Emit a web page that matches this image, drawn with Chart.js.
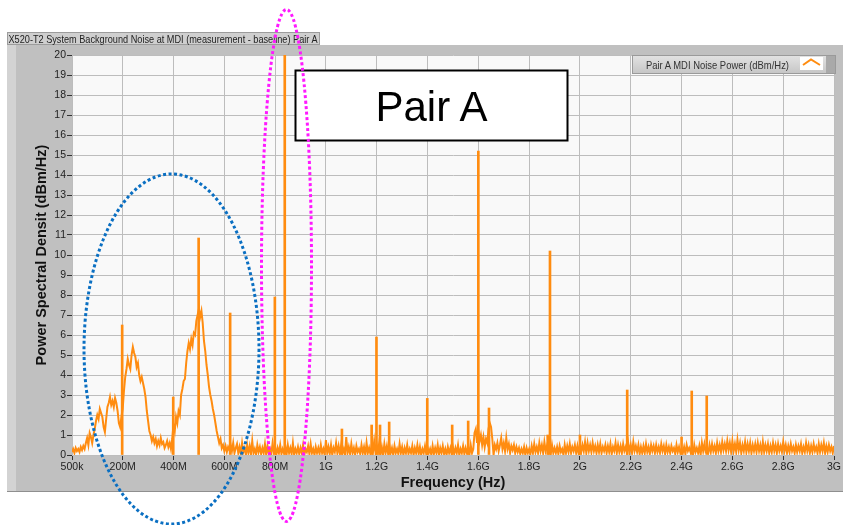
<!DOCTYPE html>
<html>
<head>
<meta charset="utf-8">
<script src="https://cdn.jsdelivr.net/npm/chart.js@4/dist/chart.umd.min.js"></script>
<style>
  html, body { margin: 0; padding: 0; background: #fff; }
  #wrap { position: relative; width: 844px; height: 525px; }
  #plot { position: absolute; left: 0; top: 0; }
  #overlay { position: absolute; left: 0; top: 0; pointer-events: none; }
</style>
</head>
<body>
<div id="wrap">
  <canvas id="plot" width="844" height="525"></canvas>
  <svg id="overlay" width="844" height="525" xmlns="http://www.w3.org/2000/svg">
    <defs>
      <linearGradient id="legendBg" x1="0" y1="0" x2="0" y2="1">
        <stop offset="0" stop-color="#e2e2e2"/>
        <stop offset="1" stop-color="#c6c6c6"/>
      </linearGradient>
    </defs>
    <!-- graph caption strip -->
    <rect x="7.5" y="32.5" width="312" height="12" fill="#cfcfcf" stroke="#9c9c9c"/>
    <text x="8.5" y="42.5" font-family="Liberation Sans, Arial, sans-serif" font-size="11" fill="#222"
          textLength="309" lengthAdjust="spacingAndGlyphs">X520-T2 System Background Noise at MDI (measurement - baseline) Pair A</text>
    <!-- plot legend -->
    <rect x="632.5" y="55.5" width="203" height="18" fill="url(#legendBg)" stroke="#9a9a9a"/>
    <rect x="826" y="56" width="9" height="17" fill="#a9a9a9"/>
    <text x="646" y="68.5" font-family="Liberation Sans, Arial, sans-serif" font-size="10.5" fill="#333"
          textLength="143" lengthAdjust="spacingAndGlyphs">Pair A MDI Noise Power (dBm/Hz)</text>
    <rect x="800" y="57" width="23" height="13" fill="#fff"/>
    <polyline points="803,65 811,59.5 820,65" fill="none" stroke="#ff8c10" stroke-width="2"/>
    <!-- annotations -->
    <rect x="295.5" y="70.5" width="272" height="70" fill="#fff" stroke="#000" stroke-width="2"/>
    <text x="431.5" y="120.5" text-anchor="middle" font-family="Liberation Sans, Arial, sans-serif" font-size="42" fill="#000">Pair A</text>
    <ellipse cx="171.5" cy="349" rx="87.5" ry="175" fill="none" stroke="#0a6fc2" stroke-width="3" stroke-dasharray="3 2.5"/>
    <ellipse cx="286.5" cy="265.5" rx="25" ry="256" fill="none" stroke="#ff19ff" stroke-width="3" stroke-dasharray="3 2.5"/>
  </svg>
</div>
<script>
// frequency axis ticks (MHz) and their labels
const tickFreqs = [0.5, 200, 400, 600, 800, 1000, 1200, 1400, 1600, 1800, 2000, 2200, 2400, 2600, 2800, 3000];
const tickLabels = ['500k', '200M', '400M', '600M', '800M', '1G', '1.2G', '1.4G', '1.6G', '1.8G', '2G', '2.2G', '2.4G', '2.6G', '2.8G', '3G'];

// PSD trace (dBm/Hz) sampled every 5 MHz, split in bands
const stepMHz = 5;
const bandStarts = [0, 650, 1500, 2250];
const psdBand1 = [
  0.15, 0.3, 0.1, 0.35, 0.2, 0.3, 0.15, 0.4, 0.25, 0.45,
  0.3, 0.6, 0.85, 0.5, 1.1, 0.9, 0.6, 1.0, 1.3, 1.7,
  2.0, 1.8, 2.3, 2.1, 1.9, 1.4, 1.15, 1.8, 2.4, 2.6,
  2.9, 2.5, 2.7, 2.4, 2.85, 2.6, 2.2, 1.6, 1.4, 1.9,
  2.3, 3.2, 3.9, 4.3, 4.8, 4.5, 4.3, 5.0, 5.4, 5.1,
  4.9, 4.4, 4.6, 4.0, 3.7, 3.9, 3.6, 3.3, 2.9, 2.2,
  1.7, 1.2, 1.0, 0.7, 0.9, 0.6, 0.8, 0.45, 0.7, 0.5,
  0.85, 0.55, 0.65, 0.35, 0.5, 0.7, 0.4, 0.6, 0.3, 0.8,
  1.5, 1.2, 1.9, 1.6, 2.2, 2.0, 3.0, 3.3, 3.7, 3.8,
  4.6, 5.2, 5.6, 5.3, 5.8, 5.5, 6.1, 6.0, 6.7, 7.0,
  7.3, 6.9, 7.2, 6.6, 5.7, 5.2, 4.5, 4.0, 3.4, 3.0,
  2.7, 2.3, 2.0, 1.6, 1.2, 0.9, 0.6, 0.8, 0.35, 0.5,
  0.2, 0.45, 0.15, 0.4, 0.25, 0.5, 0.2, 0.6, 0.1, 0.35
];
const psdBand2 = [
  0.55, 0.1, 0.4, 0.05, 0.6, 0.15, 0.35, 0.0, 0.5, 0.1,
  0.45, 0.05, 0.7, 0.1, 0.3, 0.0, 0.5, 0.15, 0.4, 0.05,
  0.35, 0.1, 0.55, 0.0, 0.45, 0.1, 0.3, 0.05, 0.6, 0.15,
  0.4, 0.0, 0.35, 0.1, 0.5, 0.05, 0.3, 0.1, 0.45, 0.0,
  0.5, 0.1, 0.35, 0.05, 0.6, 0.0, 0.3, 0.1, 0.4, 0.05,
  0.35, 0.1, 0.5, 0.0, 0.3, 0.15, 0.45, 0.05, 0.55, 0.1,
  0.3, 0.0, 0.4, 0.1, 0.35, 0.05, 0.5, 0.1, 0.3, 0.0,
  0.75, 0.1, 0.4, 0.05, 0.5, 0.0, 0.35, 0.15, 0.6, 0.1,
  0.45, 0.05, 0.5, 0.1, 0.3, 0.0, 0.9, 0.1, 0.4, 0.05,
  0.55, 0.1, 0.35, 0.0, 0.45, 0.15, 0.3, 0.05, 0.5, 0.1,
  0.4, 0.0, 0.6, 0.1, 0.35, 0.05, 0.45, 0.1, 0.7, 0.15,
  0.5, 0.1, 0.65, 0.05, 0.4, 0.0, 0.55, 0.1, 0.45, 0.05,
  0.5, 0.1, 0.35, 0.0, 0.45, 0.1, 0.3, 0.05, 0.55, 0.1,
  0.4, 0.0, 0.35, 0.1, 0.5, 0.05, 0.3, 0.1, 0.45, 0.0,
  0.35, 0.1, 0.5, 0.05, 0.4, 0.0, 0.3, 0.1, 0.45, 0.05,
  0.4, 0.1, 0.3, 0.0, 0.45, 0.05, 0.35, 0.1, 0.5, 0.0,
  0.35, 0.1, 0.45, 0.05, 0.3, 0.0, 0.4, 0.1, 0.35, 0.05
];
const psdBand3 = [
  0.4, 0.05, 0.35, 0.1, 0.5, 0.0, 0.3, 0.1, 0.45, 0.05,
  0.35, 0.1, 0.4, 0.0, 0.5, 0.1, 0.3, 1.1, 1.3, 0.6,
  1.2, 0.7, 1.0, 0.5, 0.9, 0.4, 0.8, 0.6, 1.3, 1.6,
  1.4, 0.8, 0.0, 0.5, 0.3, 0.6, 0.2, 0.5, 0.85, 0.3,
  0.6, 0.2, 0.85, 0.3, 0.55, 0.1, 0.45, 0.25, 0.5, 0.1,
  0.4, 0.15, 0.35, 0.05, 0.3, 0.1, 0.4, 0.0, 0.35, 0.1,
  0.3, 0.05, 0.45, 0.1, 0.55, 0.15, 0.4, 0.1, 0.6, 0.2,
  0.5, 0.1, 0.65, 0.2, 0.45, 0.15, 0.4, 0.05, 0.5, 0.1,
  0.35, 0.1, 0.4, 0.05, 0.45, 0.15, 0.3, 0.0, 0.5, 0.1,
  0.45, 0.15, 0.55, 0.1, 0.4, 0.2, 0.5, 0.1, 0.45, 0.05,
  0.55, 0.15, 0.5, 0.2, 0.65, 0.1, 0.6, 0.2, 0.5, 0.15,
  0.6, 0.2, 0.45, 0.1, 0.5, 0.15, 0.55, 0.1, 0.4, 0.2,
  0.5, 0.1, 0.45, 0.15, 0.55, 0.05, 0.4, 0.2, 0.6, 0.1,
  0.5, 0.15, 0.45, 0.1, 0.55, 0.2, 0.4, 0.1, 0.6, 0.15,
  0.5, 0.1, 0.65, 0.2, 0.45, 0.15, 0.5, 0.05, 0.4, 0.1
];
const psdBand4 = [
  0.45, 0.1, 0.55, 0.15, 0.4, 0.05, 0.5, 0.2, 0.45, 0.1,
  0.5, 0.15, 0.4, 0.1, 0.55, 0.2, 0.45, 0.05, 0.5, 0.15,
  0.4, 0.1, 0.45, 0.2, 0.35, 0.05, 0.5, 0.15, 0.4, 0.1,
  0.3, 0.1, 0.4, 0.05, 0.5, 0.2, 0.35, 0.15, 0.45, 0.0,
  0.5, 0.15, 0.35, 0.1, 0.45, 0.0, 0.6, 0.2, 0.55, 0.15,
  0.2, 0.1, 0.5, 0.15, 0.55, 0.2, 0.45, 0.1, 0.6, 0.2,
  0.5, 0.15, 0.65, 0.25, 0.55, 0.2, 0.7, 0.25, 0.6, 0.15,
  0.7, 0.2, 0.55, 0.15, 0.75, 0.25, 0.6, 0.1, 0.5, 0.2,
  0.65, 0.15, 0.55, 0.2, 0.6, 0.1, 0.5, 0.2, 0.55, 0.15,
  0.6, 0.2, 0.5, 0.1, 0.65, 0.15, 0.5, 0.2, 0.55, 0.1,
  0.45, 0.15, 0.6, 0.2, 0.5, 0.1, 0.55, 0.2, 0.45, 0.15,
  0.65, 0.2, 0.5, 0.1, 0.45, 0.15, 0.55, 0.2, 0.4, 0.1,
  0.5, 0.15, 0.45, 0.2, 0.55, 0.1, 0.4, 0.15, 0.6, 0.2,
  0.5, 0.1, 0.45, 0.15, 0.55, 0.2, 0.4, 0.1, 0.55, 0.15,
  0.5, 0.2, 0.6, 0.1, 0.45, 0.15, 0.5, 0.2, 0.4, 0.1,
  0.45
];

// narrow tones (MHz) and their peak level
const spikeFreqs = [198, 399, 499, 623, 799, 838, 1063, 1180, 1199, 1213, 1249, 1399, 1497, 1560, 1600, 1642, 1873, 1882, 2000, 2186, 2400, 2440, 2499];
const spikeLevels = [6.5, 2.9, 10.85, 7.1, 7.9, 20, 1.3, 1.5, 5.9, 1.5, 1.65, 2.83, 1.5, 1.7, 15.2, 2.35, 1.0, 10.2, 1.0, 3.25, 0.9, 3.2, 2.95];

const ORANGE = '#ff8c10';
const tickFont = { family: '"Liberation Sans", Arial, sans-serif', size: 10.5 };
const titleFont = { family: '"Liberation Sans", Arial, sans-serif', size: 14.5, weight: 'bold' };

const trace = [];
[psdBand1, psdBand2, psdBand3, psdBand4].forEach((band, b) => {
  band.forEach((v, i) => trace.push({ x: bandStarts[b] + i * stepMHz, y: v }));
});
const spikes = spikeFreqs.map((f, i) => ({ x: f, y: spikeLevels[i] }));

// grey LabVIEW-ish panel behind the plot
const panelBg = {
  id: 'panelBg',
  beforeDraw(chart) {
    const { ctx, chartArea: a } = chart;
    ctx.save();
    ctx.fillStyle = '#ffffff';
    ctx.fillRect(0, 0, chart.width, chart.height);
    ctx.fillStyle = '#c0c0c0';
    ctx.fillRect(7, 45, 836, 447);
    ctx.fillStyle = '#d3d3d3';
    ctx.fillRect(7, 45, 9, 447);
    ctx.fillStyle = '#8f8f8f';
    ctx.fillRect(7, 491, 836, 1);
    ctx.fillStyle = '#f9f9f9';
    ctx.fillRect(a.left, a.top, a.right - a.left, a.bottom - a.top);
    ctx.restore();
  }
};

new Chart(document.getElementById('plot'), {
  type: 'line',
  data: {
    datasets: [
      {
        label: 'Pair A MDI Noise Power (dBm/Hz)',
        data: trace,
        borderColor: ORANGE,
        backgroundColor: ORANGE,
        borderWidth: 2,
        pointRadius: 0,
        tension: 0,
        fill: false
      },
      {
        type: 'bar',
        label: 'tones',
        data: spikes,
        backgroundColor: ORANGE,
        borderWidth: 0,
        barThickness: 2
      }
    ]
  },
  options: {
    responsive: false,
    animation: false,
    devicePixelRatio: 1,
    layout: { padding: { left: 16, right: 10, top: 55, bottom: 33 } },
    plugins: { legend: { display: false }, tooltip: { enabled: false } },
    scales: {
      x: {
        type: 'linear',
        min: 0.5,
        max: 3000,
        offset: false,
        afterBuildTicks(scale) { scale.ticks = tickFreqs.map(v => ({ value: v })); },
        afterFit(scale) { scale.height = 37; scale.paddingLeft = 0; scale.paddingRight = 0; },
        ticks: {
          autoSkip: false,
          maxRotation: 0,
          padding: 1,
          color: '#222',
          font: tickFont,
          callback: (v, i) => tickLabels[i]
        },
        grid: { offset: false, color: '#bdbdbd', lineWidth: 1, tickColor: '#333', tickLength: 5 },
        border: { color: '#bdbdbd' },
        title: { display: true, text: 'Frequency (Hz)', color: '#111', font: titleFont, padding: { top: 0, bottom: 0 } }
      },
      y: {
        min: 0,
        max: 20,
        afterFit(scale) { scale.width = 56; scale.paddingTop = 0; scale.paddingBottom = 0; },
        ticks: { stepSize: 1, autoSkip: false, padding: 1, color: '#222', font: tickFont },
        grid: { offset: false, color: '#bdbdbd', lineWidth: 1, tickColor: '#333', tickLength: 5 },
        border: { color: '#bdbdbd' },
        title: { display: true, text: 'Power Spectral Densit (dBm/Hz)', color: '#111', font: titleFont, padding: { top: 17, bottom: 0 } }
      }
    }
  },
  plugins: [panelBg]
});
</script>
</body>
</html>
